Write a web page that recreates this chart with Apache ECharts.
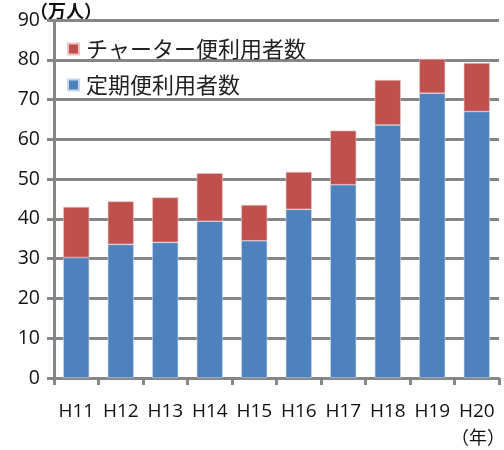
<!DOCTYPE html>
<html><head><meta charset="utf-8">
<script src="https://cdn.jsdelivr.net/npm/echarts@6/dist/echarts.min.js"></script>
<style>html,body{margin:0;padding:0;background:#fff}#c{width:504px;height:450px}</style>
</head><body><div id="c"></div>
<script>
const categories = ['H11','H12','H13','H14','H15','H16','H17','H18','H19','H20'];
const regularUsers = [30.3, 33.6, 34.1, 39.4, 34.5, 42.4, 48.6, 63.6, 71.6, 67.0];
const charterUsers = [12.7, 10.8, 11.3, 12.1, 9.0, 9.4, 13.6, 11.3, 8.6, 12.2];
const yTicks = [0,10,20,30,40,50,60,70,80,90];
const names = ['定期便利用者数','チャーター便利用者数'];
const yUnit = '（万人）';
const xUnit = '（年）';

const font = '"Noto Sans CJK JP", "Noto Sans", sans-serif';
const chart = echarts.init(document.getElementById('c'));
chart.setOption({
  animation: false,
  textStyle: {fontFamily: font},
  grid: {left: 54, right: 5, top: 20, bottom: 72, containLabel: false, outerBoundsMode: 'none'},
  legend: {
    orient: 'vertical', left: 62, top: 33, itemGap: 14,
    itemWidth: 11, itemHeight: 11, icon: 'rect',
    data: [names[1], names[0]],
    textStyle: {fontSize: 22, color: '#222', fontFamily: font, padding: [0,0,0,2]}
  },
  graphic: [
    {type: 'text', left: 30, top: 2, style: {text: yUnit, fontSize: 18, fontWeight: 'bold', fill: '#111', fontFamily: font}}
  ],
  xAxis: {
    type: 'category', data: categories,
    axisLine: {lineStyle: {color: '#868686', width: 3}},
    axisTick: {show: true, length: 7, lineStyle: {color: '#868686', width: 3}},
    axisLabel: {interval: 0, hideOverlap: false, fontSize: 19, color: '#111', margin: 24, fontFamily: 'Open Sans, "Noto Sans", sans-serif'},
    name: xUnit, nameLocation: 'end', nameGap: 0,
    nameTextStyle: {fontSize: 18, color: '#111', align: 'right', verticalAlign: 'top', padding: [50, -6, 0, 0], fontFamily: font}
  },
  yAxis: {
    type: 'value', min: yTicks[0], max: yTicks[yTicks.length-1], interval: 10,
    axisLine: {show: true, lineStyle: {color: '#868686', width: 3}},
    axisTick: {show: true, length: 7, lineStyle: {color: '#868686', width: 3}},
    splitLine: {lineStyle: {color: '#868686', width: 3}},
    axisLabel: {fontSize: 19.5, color: '#111', margin: 14, fontFamily: 'Open Sans, "Noto Sans", sans-serif'}
  },
  series: [
    {name: names[0], type: 'bar', stack: 't', data: regularUsers, barWidth: 26,
     itemStyle: {color: '#4F81BD', borderColor: '#c9d6ea', borderWidth: 0.6}},
    {name: names[1], type: 'bar', stack: 't', data: charterUsers, barWidth: 26,
     itemStyle: {color: '#C0504D', borderColor: '#ecc4c3', borderWidth: 0.6}}
  ]
});
</script></body></html>
